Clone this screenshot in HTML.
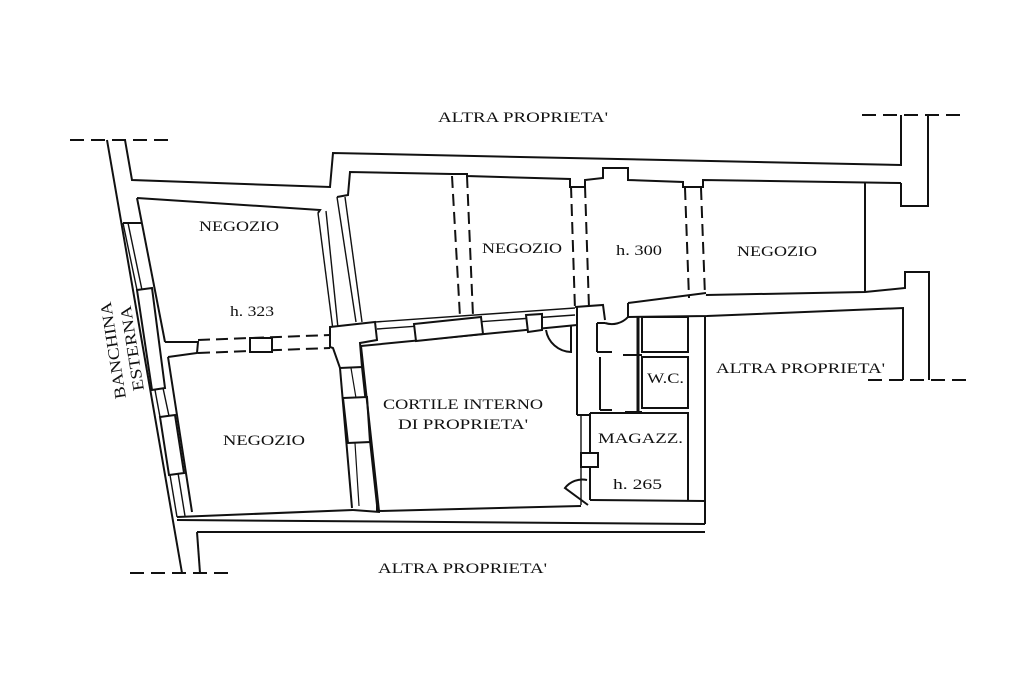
<!DOCTYPE html>
<html><head><meta charset="utf-8"><style>
html,body{margin:0;padding:0;background:#fff}
svg{display:block}
text{font-family:"Liberation Serif",serif;font-size:15px;fill:#111}
</style></head><body>
<svg width="1024" height="682" viewBox="0 0 1024 682" xmlns="http://www.w3.org/2000/svg">
<g fill="none" stroke="#111" stroke-width="2" stroke-linejoin="miter">
<g stroke-dasharray="14,7">
<line x1="70" y1="140" x2="175" y2="140"/>
<line x1="862" y1="115" x2="965" y2="115"/>
<line x1="868" y1="380" x2="970" y2="380"/>
<line x1="130" y1="573" x2="235" y2="573"/>
</g>
<line x1="107" y1="140" x2="182" y2="573"/>
<polyline points="125,140 132,180 330,187 333,153 901,165 901,115"/>
<polyline points="928,115 928,206 901,206 901,183"/>
<polyline points="901,183 703,180 703,187 683,187 683,182 628,180 628,168 603,168 603,178 585,180 585,187 570,187 570,179 467,176 467,174 452,174 350,172 348,195 337,197"/>
<line x1="865" y1="183" x2="865" y2="292"/>
<polyline points="706,295 865,292 905,288 905,272 929,272 929,380"/>
<polyline points="628,303 706,293"/>
<polyline points="628,317 707,316 903,308 903,380"/>
<line x1="705" y1="316" x2="705" y2="524"/>
<g stroke-dasharray="12,6">
<line x1="452" y1="176" x2="460" y2="317"/>
<line x1="467" y1="176" x2="473" y2="316"/>
<line x1="571" y1="186" x2="575" y2="310"/>
<line x1="585" y1="186" x2="589" y2="308"/>
<line x1="685" y1="188" x2="689" y2="298"/>
<line x1="701" y1="188" x2="705" y2="296"/>
<line x1="198" y1="340" x2="330" y2="335"/>
<line x1="198" y1="353" x2="330" y2="348"/>
</g>
<rect x="250" y="338" width="22" height="14" fill="#fff"/>
<polyline points="123,223 141,223"/>
<polyline points="137,198 320,210 318,213"/>
<line x1="137" y1="198" x2="165" y2="342"/>
<line x1="123" y1="223" x2="137" y2="290" stroke-width="1.4"/>
<line x1="128" y1="223" x2="142" y2="290" stroke-width="1.4"/>
<polygon points="137,290 152,288 165,388 152,390" fill="#fff"/>
<polygon points="160,417 175,415 184,473 169,475" fill="#fff"/>
<line x1="155" y1="390" x2="160" y2="417" stroke-width="1.4"/>
<line x1="163" y1="388" x2="169" y2="416" stroke-width="1.4"/>
<line x1="170" y1="475" x2="177" y2="517" stroke-width="1.4"/>
<line x1="178" y1="473" x2="185" y2="516" stroke-width="1.4"/>
<polyline points="165,342 198,342 197,353 168,357"/>
<line x1="168" y1="357" x2="192" y2="512"/>
<line x1="318" y1="213" x2="333" y2="330" stroke-width="1.4"/>
<line x1="326" y1="211" x2="338" y2="328" stroke-width="1.4"/>
<line x1="337" y1="197" x2="356" y2="322" stroke-width="1.4"/>
<line x1="345" y1="197" x2="362" y2="322" stroke-width="1.4"/>
<polygon points="330,327 375,322 377,340 360,343 362,367 340,368 333,348 330,347" fill="#fff"/>
<line x1="340" y1="368" x2="352" y2="508"/>
<line x1="362" y1="367" x2="377" y2="505"/>
<polygon points="343,398 367,397 370,442 348,443" fill="#fff"/>
<line x1="351" y1="368" x2="356" y2="398" stroke-width="1.2"/>
<line x1="355" y1="443" x2="359" y2="506" stroke-width="1.2"/>
<line x1="375" y1="322" x2="575" y2="308" stroke-width="1.4"/>
<line x1="377" y1="329" x2="575" y2="315" stroke-width="1.4"/>
<line x1="361" y1="346" x2="577" y2="325"/>
<polygon points="414,324 481,317 483,334 416,341" fill="#fff"/>
<polygon points="526,315 542,314 542,330 528,332" fill="#fff"/>
<path d="M546,330 A26,26 0 0 0 571,352 L571,326"/>
<line x1="361" y1="346" x2="379" y2="511"/>
<polyline points="379,511 581,506"/>
<polyline points="177,517 353,510"/>
<polyline points="377,511 377,505"/>
<line x1="353" y1="510" x2="380" y2="512"/>
<polyline points="590,500 705,501"/>
<line x1="177" y1="520" x2="705" y2="524"/>
<polyline points="197,532 705,532"/>
<line x1="197" y1="532" x2="200" y2="573"/>
<polyline points="575,307 603,305 605,320"/>
<line x1="577" y1="307" x2="577" y2="415"/>
<line x1="600" y1="357" x2="600" y2="410"/>
<line x1="597" y1="323" x2="597" y2="352"/>
<polyline points="597,323 605,323"/>
<path d="M605,323 A22,22 0 0 0 628,317"/>
<line x1="628" y1="303" x2="628" y2="317"/>
<line x1="597" y1="352" x2="612" y2="352"/>
<line x1="623" y1="355" x2="642" y2="355"/>
<line x1="600" y1="410" x2="612" y2="410"/>
<line x1="625" y1="412" x2="642" y2="412"/>
<line x1="577" y1="415" x2="590" y2="415"/>
<line x1="581" y1="415" x2="581" y2="505" stroke-width="1.4"/>
<line x1="590" y1="413" x2="590" y2="500"/>
<rect x="581" y="453" width="17" height="14" fill="#fff"/>
<path d="M587,480 A22,22 0 0 0 565,488 L588,505"/>
<rect x="642" y="317" width="46" height="35"/>
<rect x="642" y="357" width="46" height="51"/>
<line x1="638" y1="317" x2="638" y2="413" stroke-width="3"/>
<polyline points="590,413 688,413 688,500"/>
</g>
<text x="438" y="122" textLength="170" lengthAdjust="spacingAndGlyphs">ALTRA PROPRIETA'</text>
<text x="199" y="231" textLength="80" lengthAdjust="spacingAndGlyphs">NEGOZIO</text>
<text x="230" y="316" textLength="44" lengthAdjust="spacingAndGlyphs">h. 323</text>
<text x="223" y="445" textLength="82" lengthAdjust="spacingAndGlyphs">NEGOZIO</text>
<text x="383" y="409" textLength="160" lengthAdjust="spacingAndGlyphs">CORTILE INTERNO</text>
<text x="398" y="429" textLength="130" lengthAdjust="spacingAndGlyphs">DI PROPRIETA'</text>
<text x="482" y="253" textLength="80" lengthAdjust="spacingAndGlyphs">NEGOZIO</text>
<text x="616" y="255" textLength="46" lengthAdjust="spacingAndGlyphs">h. 300</text>
<text x="737" y="256" textLength="80" lengthAdjust="spacingAndGlyphs">NEGOZIO</text>
<text x="647" y="383" textLength="37" lengthAdjust="spacingAndGlyphs">W.C.</text>
<text x="716" y="373" textLength="169" lengthAdjust="spacingAndGlyphs">ALTRA PROPRIETA'</text>
<text x="598" y="443" textLength="85" lengthAdjust="spacingAndGlyphs">MAGAZZ.</text>
<text x="613" y="489" textLength="49" lengthAdjust="spacingAndGlyphs">h. 265</text>
<text x="378" y="573" textLength="169" lengthAdjust="spacingAndGlyphs">ALTRA PROPRIETA'</text>
<text transform="translate(126,398) rotate(-99)" style="font-size:16px" textLength="98" lengthAdjust="spacingAndGlyphs">BANCHINA</text>
<text transform="translate(144,390) rotate(-99)" style="font-size:16px" textLength="86" lengthAdjust="spacingAndGlyphs">ESTERNA</text>
</svg>
</body></html>
